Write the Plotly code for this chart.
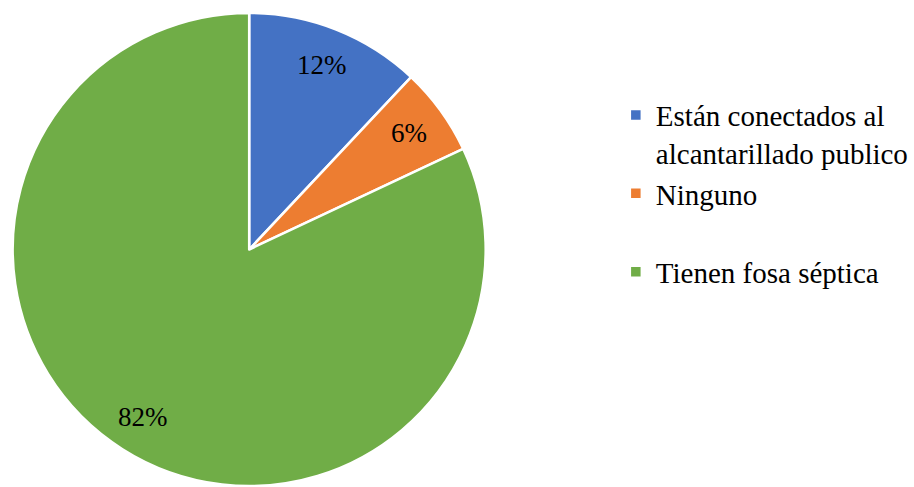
import math
import plotly.graph_objects as go

labels = ["Están conectados al<br>alcantarillado publico", "Ninguno<br> ", "Tienen fosa séptica"]
values = [12, 6, 82]
colors = ["#4472C4", "#ED7D31", "#70AD47"]
text_labels = ["12%", "6%", "82%"]

FONT = "'Times New Roman', 'Liberation Serif', serif"
W, H = 914, 487
dom_x = [12 / W, 488 / W]
dom_y = [1 / H, 474 / H]

fig = go.Figure(go.Pie(
    labels=labels,
    values=values,
    sort=False,
    direction="clockwise",
    rotation=0,
    marker=dict(colors=colors, line=dict(color="white", width=2.5)),
    textinfo="none",
    hoverinfo="label+percent",
    domain=dict(x=dom_x, y=dom_y),
))

# Data labels placed at 0.84 of radius along each slice's mid angle
cx = (dom_x[0] + dom_x[1]) / 2 * W
cy = (dom_y[0] + dom_y[1]) / 2 * H
R = min(dom_x[1] - dom_x[0], (dom_y[1] - dom_y[0]) * H / W) * W / 2
total = sum(values)
cum = 0
for v, t in zip(values, text_labels):
    mid = (cum + v / 2) / total * 2 * math.pi
    cum += v
    px = cx + 0.84 * R * math.sin(mid)
    py = cy + 0.84 * R * math.cos(mid)
    fig.add_annotation(x=px / W, y=py / H, xref="paper", yref="paper",
                       xanchor="center", yanchor="middle",
                       text=t, showarrow=False,
                       font=dict(family=FONT, size=27, color="black"))

fig.update_layout(
    width=W, height=H,
    margin=dict(l=0, r=0, t=0, b=0),
    paper_bgcolor="white",
    plot_bgcolor="white",
    font=dict(family=FONT, size=29, color="black"),
    showlegend=True,
    legend=dict(x=0.676, y=0.816, xanchor="left", yanchor="top",
                valign="top", itemwidth=30,
                font=dict(family=FONT, size=29, color="black")),
)

fig.write_html("out.html", config={"displayModeBar": False},
               post_script="document.body.style.margin='0';")
